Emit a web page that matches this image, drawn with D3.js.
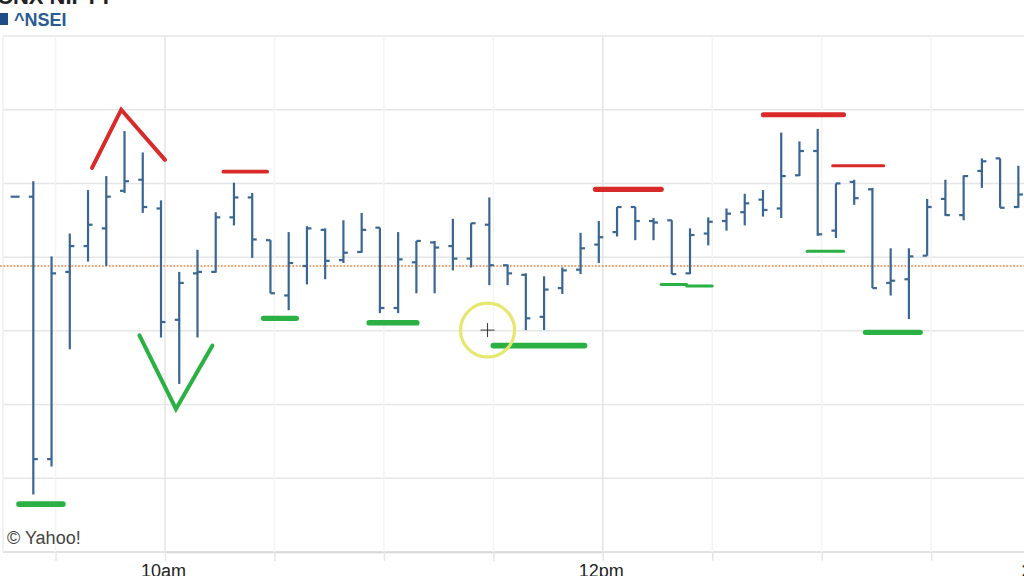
<!DOCTYPE html>
<html><head><meta charset="utf-8">
<script src="https://cdn.jsdelivr.net/npm/d3@7"></script>
<style>html,body{margin:0;padding:0;background:#fff;overflow:hidden}</style>
</head><body>
<svg id="c" width="1024" height="576"></svg>
<script>
// ---- data ----
const times = ["09:20","09:25","09:30","09:35","09:40","09:45","09:50","09:55","10:00","10:05",
  "10:10","10:15","10:20","10:25","10:30","10:35","10:40","10:45","10:50","10:55",
  "11:00","11:05","11:10","11:15","11:20","11:25","11:30","11:35","11:40","11:45",
  "11:50","11:55","12:00","12:05","12:10","12:15","12:20","12:25","12:30","12:35",
  "12:40","12:45","12:50","12:55","13:00","13:05","13:10","13:15","13:20","13:25",
  "13:30","13:35","13:40","13:45","13:50","13:55"];
const opens = [6008.2,6008.2,5972.6,5998.0,6001.5,6003.9,6009.0,6010.5,6006.6,5991.5,
  5997.8,5998.0,6005.4,6008.1,6002.3,5994.8,5998.8,6003.7,5999.6,6000.7,
  6004.0,5993.1,5999.3,6002.0,6001.5,5999.8,6004.4,5998.9,5997.6,5991.9,
  5995.8,5998.3,6001.7,6003.4,6006.8,6004.9,6005.0,5997.8,6003.2,6004.9,
  6006.1,6007.8,6006.6,6011.1,6014.4,6003.6,6010.2,6009.2,5996.5,5997.0,
  6000.2,6007.9,6005.7,6011.7,6013.4,6006.8];
const highs = [6008.2,6010.3,6000.1,6003.2,6009.1,6011.0,6017.1,6014.2,6007.7,5998.0,
  6001.0,6006.1,6010.1,6008.7,6002.3,6003.4,6004.2,6003.9,6005.0,6006.0,
  6004.0,6003.4,6002.2,6002.2,6005.2,6004.6,6008.1,5999.0,5997.8,5997.4,
  5998.6,6003.3,6004.9,6006.8,6006.8,6005.3,6005.0,6003.9,6005.4,6006.6,
  6008.6,6009.1,6016.9,6015.7,6017.4,6010.0,6010.5,6009.4,6001.2,6001.2,
  6007.9,6010.5,6011.1,6013.4,6013.4,6012.4];
const lows = [6008.2,5967.8,5971.6,5987.5,5999.4,5998.8,6008.7,6006.0,5989.1,5982.8,
  5989.1,5997.9,6004.3,5999.9,5995.1,5992.8,5996.3,5997.0,5999.2,6000.6,
  5992.4,5992.4,5995.1,5995.1,5998.2,5998.6,5996.2,5996.2,5990.1,5990.1,
  5995.0,5997.7,5999.2,6002.8,6002.3,6002.3,5997.7,5997.7,6001.6,6003.6,
  6004.3,6005.5,6005.3,6011.0,6002.9,6002.6,6007.1,5995.8,5994.8,5991.6,
  6000.2,6005.6,6005.0,6009.4,6006.7,6006.7];
const closes = [6008.2,5972.6,5997.8,6001.5,6004.4,6008.2,6010.3,6006.8,5991.2,5996.5,
  5998.0,6005.4,6008.1,6002.4,5995.1,5999.2,6003.9,5999.5,6000.6,6003.7,
  5993.1,5999.7,6002.2,6001.3,5999.8,6004.6,5998.9,5997.8,5991.7,5995.6,
  5998.2,6001.2,6002.7,6006.8,6004.9,6004.7,5997.7,6003.0,6004.8,6005.9,
  6007.3,6006.4,6011.0,6014.4,6003.1,6010.0,6008.0,5995.8,5996.8,6000.1,
  6006.8,6005.7,6011.0,6013.0,6006.7,6008.5];
const prevClose = 5998.8;
const gridValues = [5960,5970,5980,5990,6000,6010,6020,6030];
const tickTimes = ["09:30","10:00","10:30","11:00","11:30","12:00","12:30","13:00","13:30","14:00"];
const tickLabels = {"10:00":"10am","12:00":"12pm","14:00":"2pm"};
const majorTimes = ["10:00","12:00"];

// hand-drawn highlight marks: [time, value] points
const redMarks = [
  {w:4, pts:[["09:40",6012.1],["09:48",6020.0],["10:00",6013.2]]},
  {w:3.7, pts:[["10:16",6011.6],["10:28",6011.6]]},
  {w:5.3, pts:[["11:58",6009.2],["12:16",6009.2]]},
  {w:5, pts:[["12:44",6019.3],["13:06",6019.3]]},
  {w:3, pts:[["13:03",6012.4],["13:17",6012.4]]}
];
const greenMarks = [
  {w:4, pts:[["09:53",5989.4],["10:03",5979.4],["10:13",5988.0]]},
  {w:5.7, pts:[["09:20",5966.5],["09:32",5966.5]]},
  {w:5.3, pts:[["10:27",5991.7],["10:36",5991.7]]},
  {w:5.7, pts:[["10:56",5991.1],["11:09",5991.1]]},
  {w:5.7, pts:[["11:30",5988.0],["11:55",5988.0]]},
  {w:3, pts:[["12:16",5996.3],["12:23",5996.3]]},
  {w:3, pts:[["12:23",5996.1],["12:30",5996.1]]},
  {w:3, pts:[["12:56",6000.8],["13:06",6000.8]]},
  {w:5.3, pts:[["13:12",5989.8],["13:27",5989.8]]}
];
const cursorMark = ["11:28",5990.1];

// ---- drawing ----
const parse = d3.timeParse("%H:%M");
const svg = d3.select("#c");
const x = d3.scaleTime().domain([parse("10:00"), parse("12:00")]).range([165, 602.8]);
const y = d3.scaleLinear().domain([5960, 6030]).range([552, 36]);
const barShift = -4;
const FONT = "Liberation Sans, Arial, sans-serif";

// grid
const g = svg.append("g");
g.selectAll("line.h").data(gridValues).enter().append("line")
  .attr("x1", 3).attr("x2", 1024)
  .attr("y1", d => y(d)).attr("y2", d => y(d))
  .attr("stroke", d => d === 5960 ? "#d8d8d8" : "#e6e6e6").attr("stroke-width", 1.5);
g.selectAll("line.v").data(tickTimes).enter().append("line")
  .attr("x1", d => x(parse(d))).attr("x2", d => x(parse(d)))
  .attr("y1", y(6030)).attr("y2", y(5960))
  .attr("stroke", d => majorTimes.includes(d) ? "#e4e4e4" : "#f4f4f4").attr("stroke-width", 1.5);
g.append("line").attr("x1", 3).attr("x2", 3).attr("y1", y(6030)).attr("y2", y(5960))
  .attr("stroke", "#eeeeee").attr("stroke-width", 1.5);

// previous close
svg.append("line").attr("x1", 0).attr("x2", 1024)
  .attr("y1", y(prevClose)).attr("y2", y(prevClose))
  .attr("stroke", "#e8803f").attr("stroke-width", 1.7).attr("stroke-dasharray", "1.7,1.7");

// axis
const axis = d3.axisBottom(x)
  .tickValues(tickTimes.map(parse))
  .tickFormat(d => tickLabels[d3.timeFormat("%H:%M")(d)] || "")
  .tickSize(9).tickSizeOuter(0).tickPadding(3);
const ax = svg.append("g").attr("transform", `translate(0,${y(5960)})`).call(axis);
ax.select(".domain").attr("stroke", "#d8d8d8").attr("stroke-width", 1.5);
ax.selectAll(".tick line").attr("stroke", "#e6e6e6").attr("stroke-width", 1.5);
ax.selectAll(".tick text").attr("fill", "#222").attr("font-family", FONT)
  .attr("font-size", 18).attr("x", -2);

// OHLC bars
const bars = svg.append("g").attr("stroke", "#3a6694").attr("stroke-width", 2.2).attr("fill", "none");
times.forEach((t, i) => {
  const cx = x(parse(t)) + barShift;
  const b = bars.append("g");
  if (highs[i] !== lows[i]) {
    b.append("line").attr("x1", cx).attr("x2", cx).attr("y1", y(highs[i])).attr("y2", y(lows[i]));
  }
  b.append("line").attr("x1", cx - 4.5).attr("x2", cx).attr("y1", y(opens[i])).attr("y2", y(opens[i]));
  b.append("line").attr("x1", cx).attr("x2", cx + 4.5).attr("y1", y(closes[i])).attr("y2", y(closes[i]));
});

// highlight marks
const line = d3.line().x(p => x(parse(p[0]))).y(p => y(p[1]));
svg.append("g").selectAll("path").data(redMarks).enter().append("path")
  .attr("d", d => line(d.pts)).attr("fill", "none").attr("stroke", "#d92a2a")
  .attr("stroke-width", d => d.w).attr("stroke-linecap", "round").attr("stroke-linejoin", "miter");
svg.append("g").selectAll("path").data(greenMarks).enter().append("path")
  .attr("d", d => line(d.pts)).attr("fill", "none").attr("stroke", "#2bb043")
  .attr("stroke-width", d => d.w).attr("stroke-linecap", "round").attr("stroke-linejoin", "miter");

// cursor highlight
const cx0 = x(parse(cursorMark[0])) + 1.5, cy0 = y(cursorMark[1]);
svg.append("circle").attr("cx", cx0).attr("cy", cy0).attr("r", 27)
  .attr("fill", "none").attr("stroke", "#e6e76f").attr("stroke-width", 3.2);
svg.append("path").attr("d", `M${cx0-7},${cy0}H${cx0+7}M${cx0},${cy0-7}V${cy0+7}`)
  .attr("stroke", "#333").attr("stroke-width", 1);

// texts
svg.append("text").attr("x", -3).attr("y", 4).text("CNX NIFTY")
  .attr("font-family", FONT).attr("font-weight", "bold")
  .attr("font-size", 22).attr("fill", "#222");
svg.append("rect").attr("x", -1).attr("y", 13).attr("width", 9).attr("height", 12).attr("fill", "#1f4e86");
svg.append("text").attr("x", 14).attr("y", 26).text("^NSEI")
  .attr("font-family", FONT).attr("font-weight", "bold")
  .attr("font-size", 18).attr("fill", "#2a5c93");
svg.append("text").attr("x", 7).attr("y", 544).text("© Yahoo!")
  .attr("font-family", FONT)
  .attr("font-size", 18).attr("fill", "#444");
</script>
</body></html>
